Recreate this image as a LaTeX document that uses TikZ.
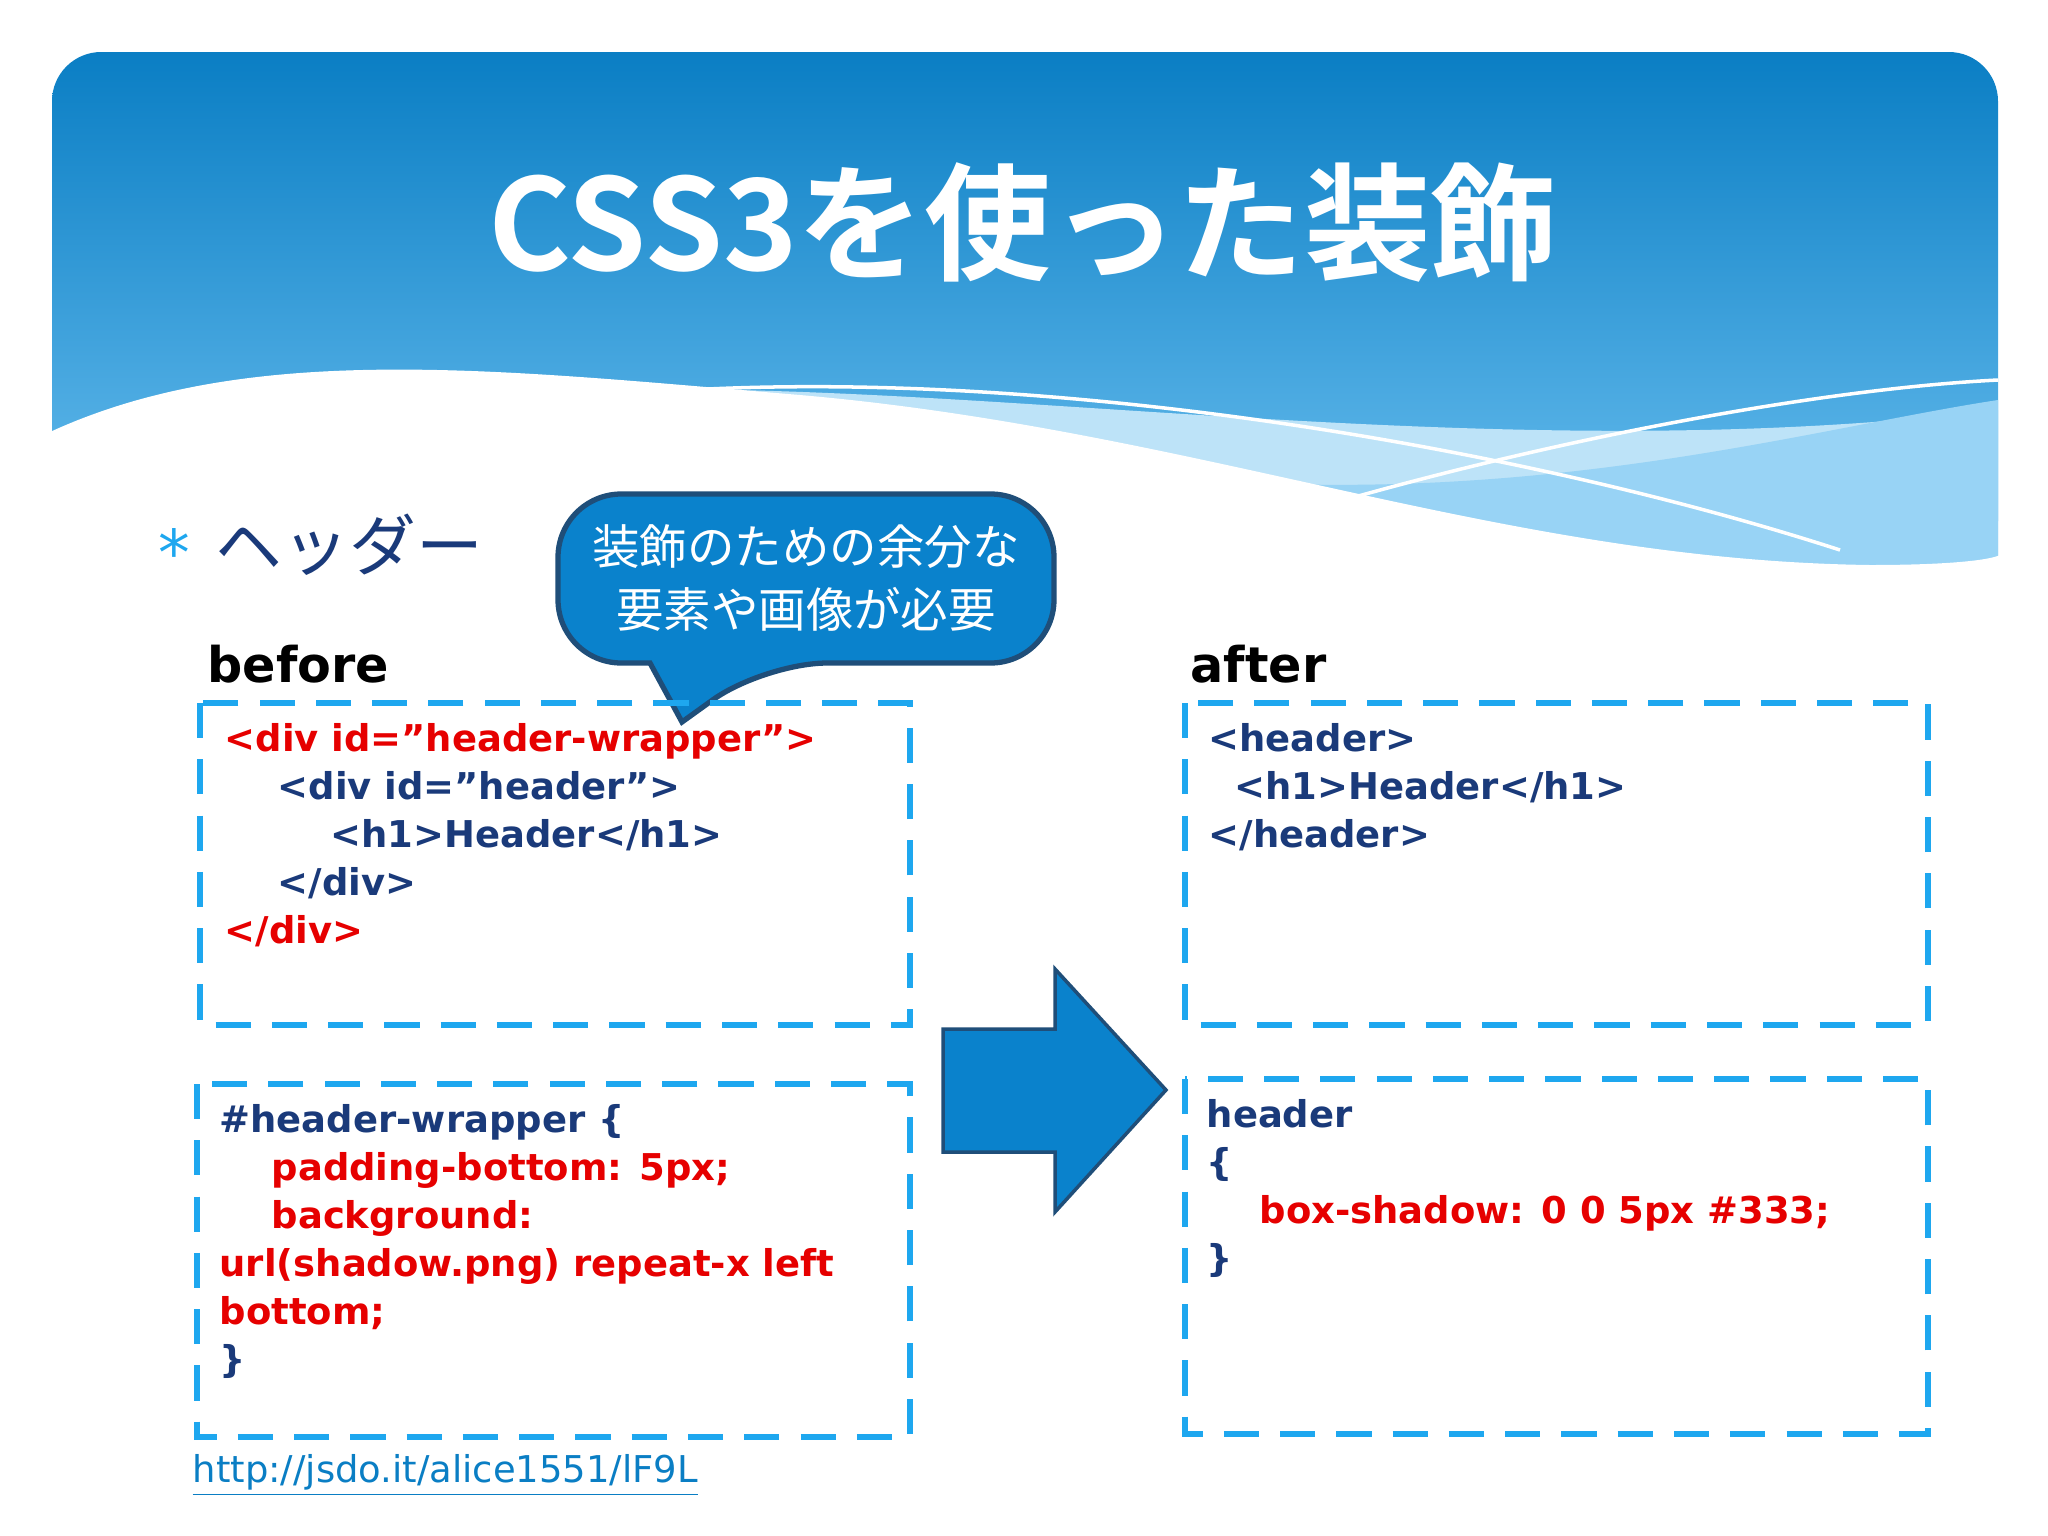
\documentclass[tikz,border=0pt]{standalone}
\usepackage{fontspec}
\setmainfont{DejaVu Sans}[Ligatures=ResetAll]
\newfontfamily\jp{Noto Sans CJK JP}
\newfontfamily\jpb{Noto Sans CJK JP Bold}
\definecolor{bandtop}{HTML}{0A7EC4}
\definecolor{bandbot}{HTML}{6CC0F0}
\definecolor{dash}{HTML}{1EA7EF}
\definecolor{codeblue}{HTML}{1A3A7A}
\definecolor{codered}{HTML}{E60000}
\definecolor{calloutfill}{HTML}{0A82CC}
\definecolor{calloutdraw}{HTML}{1F4E79}
\newcommand{\dq}{\symbol{34}}
\begin{document}
\begin{tikzpicture}[x=0.01cm,y=-0.01cm,
  codebox/.style={draw=dash,line width=1.9pt,dash pattern=on 10pt off 6pt},
  code/.style={anchor=base west,font=\bfseries\fontsize{10.5}{13}\selectfont,inner sep=0},
  blue/.style={code,text=codeblue},
  red/.style={code,text=codered},
  lbl/.style={anchor=base west,font=\bfseries\fontsize{14}{16}\selectfont,inner sep=0}]
\useasboundingbox (0,0) rectangle (2048,1536);
\fill[white] (0,0) rectangle (2048,1536);
% band
\shade[top color=bandtop,bottom color=bandbot,rounded corners=14pt]
  (52,570) -- (52,52) -- (1998,52) -- (1998,570) -- cycle;
\fill[white!55!bandbot] (600,390) .. controls (1000,380) and (1500,470) .. (1998,410) -- (1998,571) -- (600,571) -- cycle;
\fill[white!30!bandbot] (1100,470) .. controls (1500,520) and (1800,430) .. (1998,400) -- (1998,571) -- (1100,571) -- cycle;
\fill[white] (50,432) .. controls (250,340) and (500,370) .. (800,395)
  .. controls (1200,430) and (1500,560) .. (1870,565) .. controls (1950,565) and (1990,560) .. (2000,555)
  -- (2000,600) -- (50,600) -- cycle;
\draw[white,line width=1pt] (620,395) .. controls (1000,360) and (1500,440) .. (1840,550);
\draw[white,line width=1pt] (1260,525) .. controls (1500,450) and (1800,390) .. (1998,380);
\node (title) at (1023,222) {\jpb\color{white}\fontsize{36}{42}\selectfont CSS3を使った装飾};
% bullet
\node[anchor=base west,inner sep=0,text=dash] (star) at (158,575) {\fontsize{18}{20}\selectfont *};
\node[anchor=base west,inner sep=0,text=codeblue] (hd) at (215,570) {\jp\fontsize{19}{22}\selectfont ヘッダー};
% callout
\draw[fill=calloutfill,draw=calloutdraw,line width=1.5pt,rounded corners=18pt]
  (558,494) -- (1054,494) -- (1054,663) -- (764,663) [sharp corners] -- (682,722) -- (650,663) [rounded corners=18pt] -- (558,663) -- cycle;
\node[text=white,align=center,font=\jp\fontsize{13.5}{18}\selectfont] (callout) at (806,578) {装飾のための余分な\\要素や画像が必要};
% labels
\node[lbl] (before) at (207,682) {before};
\node[lbl] (after) at (1190,682) {after};
% boxes
\draw[codebox] (200,703) rectangle (910,1025);
\draw[codebox] (197,1084) rectangle (910,1437);
\draw[codebox] (1185,703) rectangle (1928,1025);
\draw[codebox] (1185,1079) rectangle (1928,1434);
% code 1
\node[red] at (224,751) {<div id=\dq header-wrapper\dq>};
\node[blue] at (277,799) {<div id=\dq header\dq>};
\node[blue] at (330,847) {<h1>Header</h1>};
\node[blue] at (277,895) {</div>};
\node[red] at (224,943) {</div>};
% code 2
\node[blue] at (219,1132) {\#header-wrapper \{};
\node[red] at (271,1180) {padding-bottom: 5px;};
\node[red] at (271,1228) {background:};
\node[red] at (219,1276) {url(shadow.png) repeat-x left};
\node[red] at (219,1324) {bottom;};
\node[blue] at (219,1372) {\}};
% code 3
\node[blue] at (1208,751) {<header>};
\node[blue] at (1234,799) {<h1>Header</h1>};
\node[blue] at (1208,847) {</header>};
% code 4
\node[blue] at (1206,1127) {header};
\node[blue] at (1206,1175) {\{};
\node[red] at (1259,1223) {box-shadow: 0 0 5px \#333;};
\node[blue] at (1206,1271) {\}};
% arrow
\draw[fill=calloutfill,draw=calloutdraw,line width=1pt] (943,1029) -- (1055,1029) -- (1055,969) -- (1166,1090) -- (1055,1212) -- (1055,1152) -- (943,1152) -- cycle;
% link
\node[anchor=base west,inner sep=0,text=bandtop,font=\fontsize{10.5}{13}\selectfont] (link) at (192,1482) {\underline{http://jsdo.it/alice1551/lF9L}};
\end{tikzpicture}
\end{document}
